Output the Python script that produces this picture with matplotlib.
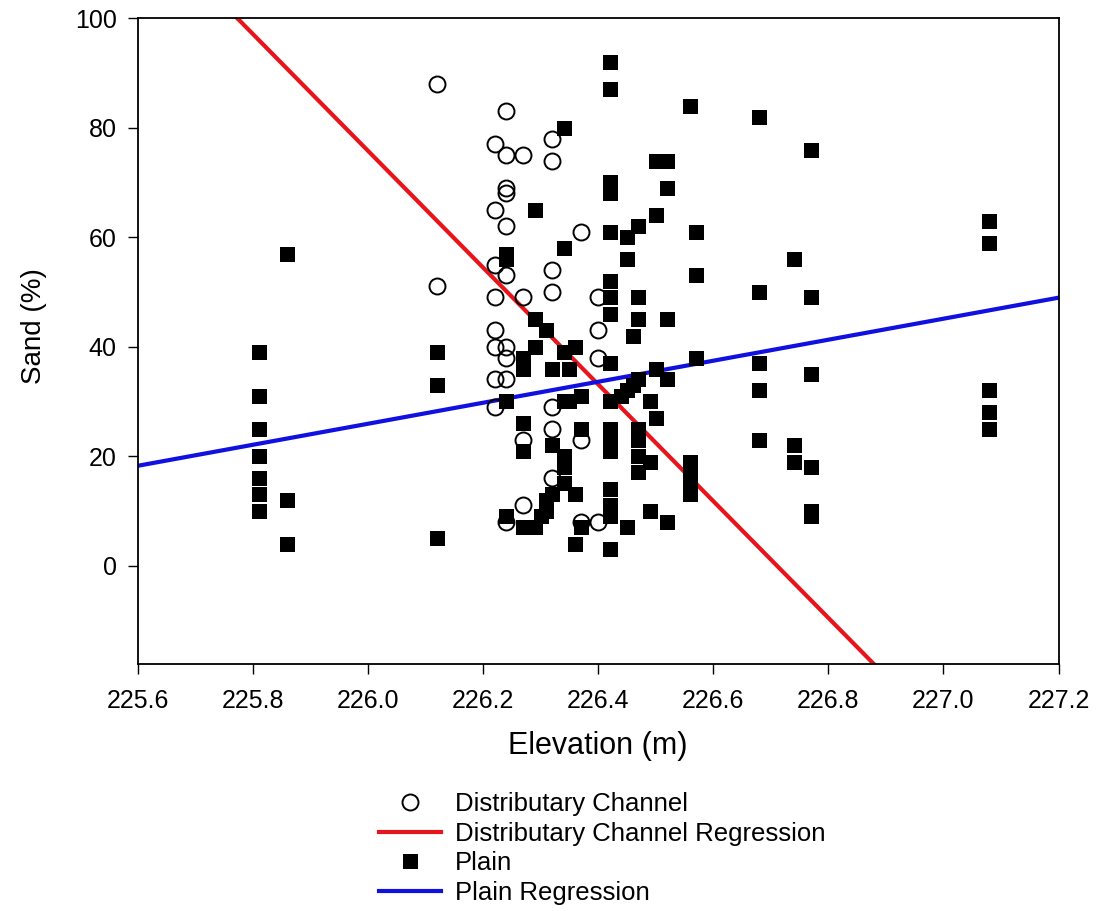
import matplotlib
matplotlib.use("Agg")
import matplotlib.pyplot as plt
from matplotlib.lines import Line2D
import numpy as np

plt.rcParams['font.family'] = ['Liberation Sans', 'DejaVu Sans']

# Distributary channel samples: elevation (m) and sand content (%)
channel_elev = [226.12, 226.12,
                226.22, 226.22, 226.22, 226.22, 226.22, 226.22, 226.22, 226.22,
                226.24, 226.24, 226.24, 226.24, 226.24, 226.24, 226.24, 226.24, 226.24, 226.24,
                226.27, 226.27, 226.27, 226.27,
                226.32, 226.32, 226.32, 226.32, 226.32, 226.32, 226.32,
                226.37, 226.37, 226.37,
                226.40, 226.40, 226.40, 226.40]
channel_sand = [88, 51,
                77, 65, 55, 49, 43, 40, 34, 29,
                83, 75, 69, 68, 62, 53, 40, 38, 34, 8,
                75, 49, 23, 11,
                78, 74, 54, 50, 29, 25, 16,
                61, 23, 8,
                49, 43, 38, 8]

# Plain samples: elevation (m) and sand content (%)
plain_elev = [225.81] * 7 + [225.86] * 3 + [226.12] * 3 + [226.24] * 4 + \
             [226.27] * 5 + [226.29] * 4 + [226.30] * 1 + [226.31] * 3 + \
             [226.32] * 3 + [226.34] * 7 + [226.35] * 2 + [226.36] * 3 + \
             [226.37] * 3 + [226.42] * 17 + [226.44] * 1 + [226.45] * 4 + \
             [226.46] * 2 + [226.47] * 8 + [226.49] * 3 + [226.50] * 4 + \
             [226.52] * 5 + [226.56] * 5 + [226.57] * 3 + [226.68] * 5 + \
             [226.74] * 3 + [226.77] * 6 + [227.08] * 5
plain_sand = [39, 31, 25, 20, 16, 13, 10,
              57, 12, 4,
              39, 33, 5,
              57, 56, 30, 9,
              38, 36, 26, 21, 7,
              65, 45, 40, 7,
              9,
              43, 12, 10,
              36, 22, 13,
              80, 58, 39, 30, 20, 18, 15,
              36, 30,
              40, 13, 4,
              31, 25, 7,
              92, 87, 70, 68, 61, 52, 49, 46, 37, 30, 25, 23, 21, 14, 11, 9, 3,
              31,
              60, 56, 32, 7,
              42, 33,
              62, 49, 45, 34, 25, 23, 20, 17,
              30, 19, 10,
              74, 64, 36, 27,
              74, 69, 45, 34, 8,
              84, 19, 17, 15, 13,
              61, 53, 38,
              82, 50, 37, 32, 23,
              56, 22, 19,
              76, 49, 35, 18, 10, 9,
              63, 59, 32, 28, 25]

# Linear regressions: slope (% per m) and fitted value at 226.0 m
channel_fit = [-106.7, 75.8]
plain_fit = [19.2, 25.9]

x_ticks = [225.6, 225.8, 226.0, 226.2, 226.4, 226.6, 226.8, 227.0, 227.2]
y_ticks = [0, 20, 40, 60, 80, 100]

W, H = 1097, 911
fig = plt.figure(figsize=(W / 100, H / 100), dpi=100)
ax = fig.add_axes([137.7 / W, 1 - 664 / H, (1058.5 - 137.7) / W, (664 - 18.3) / H])

xmin, xmax = 225.6, 227.2
ymin, ymax = -18, 100
xs = np.array([xmin, xmax])

red = '#e8141c'
blue = '#1010e0'
circle_kw = dict(linestyle='none', marker='o', markersize=11.5, markerfacecolor='none',
                 markeredgecolor='black', markeredgewidth=1.4)
square_kw = dict(linestyle='none', marker='s', markersize=10.8, markerfacecolor='black',
                 markeredgecolor='black', markeredgewidth=0)

ax.plot(channel_elev, channel_sand, zorder=3, **circle_kw)
ax.plot(xs, channel_fit[1] + channel_fit[0] * (xs - 226.0), color=red, lw=3.0, zorder=2)
ax.plot(plain_elev, plain_sand, zorder=4, **square_kw)
ax.plot(xs, plain_fit[1] + plain_fit[0] * (xs - 226.0), color=blue, lw=3.0, zorder=2)

ax.set_xlim(xmin, xmax)
ax.set_ylim(ymin, ymax)
ax.set_xticks(x_ticks)
ax.set_xticklabels([f'{v:.1f}' for v in x_ticks])
ax.set_yticks(y_ticks)
ax.tick_params(axis='both', direction='out', length=7, width=1.0, labelsize=18, pad=8)
ax.tick_params(axis='x', pad=11)
for sp in ax.spines.values():
    sp.set_linewidth(1.3)

ax.set_xlabel('Elevation (m)', fontsize=22, labelpad=13)
ax.set_ylabel('Sand (%)', fontsize=20)
ax.yaxis.set_label_coords(-0.098, 0.523)

handles = [
    Line2D([], [], **circle_kw),
    Line2D([], [], color=red, lw=3.0),
    Line2D([], [], **square_kw),
    Line2D([], [], color=blue, lw=3.0),
]
labels = ['Distributary Channel', 'Distributary Channel Regression', 'Plain', 'Plain Regression']
fig.legend(handles, labels, loc='upper left', bbox_to_anchor=(379 / W, 1 - 792 / H),
           frameon=False, fontsize=18.5, handlelength=2.4, handletextpad=0.55,
           labelspacing=0.22, borderpad=0, borderaxespad=0)

fig.savefig('out.png', dpi=100)
